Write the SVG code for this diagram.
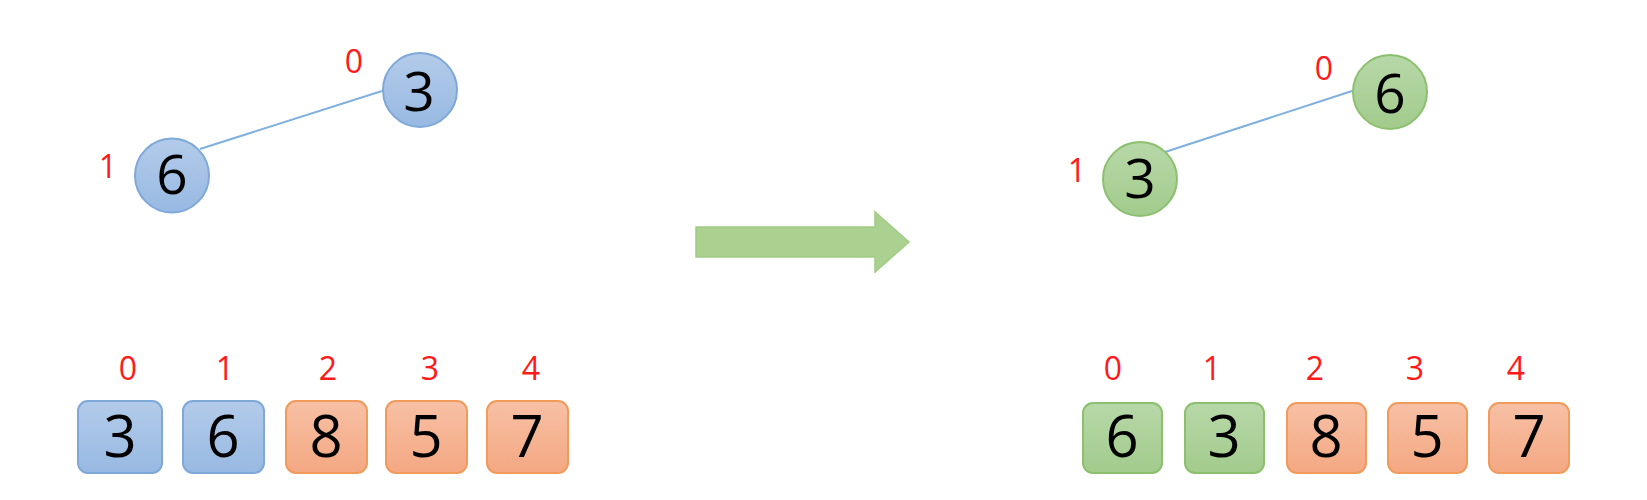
<svg xmlns="http://www.w3.org/2000/svg" width="1647" height="500" viewBox="0 0 1647 500">
<defs>
<linearGradient id="gb" x1="0" y1="0" x2="0" y2="1"><stop offset="0" stop-color="#b3cbea"/><stop offset="1" stop-color="#98b9e2"/></linearGradient>
<linearGradient id="gg" x1="0" y1="0" x2="0" y2="1"><stop offset="0" stop-color="#b7d8a8"/><stop offset="1" stop-color="#a2cb8c"/></linearGradient>
<linearGradient id="go" x1="0" y1="0" x2="0" y2="1"><stop offset="0" stop-color="#f7c0a5"/><stop offset="1" stop-color="#f4a882"/></linearGradient>
<style>
.blue{fill:url(#gb);stroke:#7ea8d8;stroke-width:2}
.green{fill:url(#gg);stroke:#8cc06e;stroke-width:2}
.orange{fill:url(#go);stroke:#f09a5c;stroke-width:2}
.num{font-family:"Open Sans","Noto Sans",sans-serif;font-size:55px;fill:#000;text-anchor:middle}
.bnum{font-size:58px}
.idx{font-family:"Open Sans","Noto Sans",sans-serif;font-size:32px;fill:#ff1a1a;text-anchor:middle}
.edge{stroke:#7fb0df;stroke-width:2;fill:none}
</style>
</defs>
<rect width="1647" height="500" fill="#fff"/>
<g id="connectors">
<line class="edge" x1="200" y1="149" x2="382" y2="91"/>
<line class="edge" x1="1165" y1="152" x2="1352" y2="91"/>
</g>
<g id="tree1-node0"><circle class="blue" cx="420" cy="90" r="37"/><text class="num" x="419" y="111">3</text><text class="idx" x="354" y="73">0</text></g>
<g id="tree1-node1"><circle class="blue" cx="172" cy="175.5" r="37"/><text class="num" x="172" y="194">6</text><text class="idx" x="108" y="178">1</text></g>
<g id="arrow"><path d="M696,227 L875,227 L875,212 L909,242 L875,272 L875,257 L696,257 Z" fill="#aad18f" stroke="#a0cc85" stroke-width="1.5"/></g>
<g id="tree2-node0"><circle class="green" cx="1390" cy="92" r="37"/><text class="num" x="1390" y="113">6</text><text class="idx" x="1324" y="80">0</text></g>
<g id="tree2-node1"><circle class="green" cx="1140" cy="179" r="37"/><text class="num" x="1140" y="198">3</text><text class="idx" x="1077" y="182">1</text></g>
<g id="arr1-0"><rect class="blue" x="78" y="401" width="84" height="72" rx="10"/><text class="num bnum" x="120" y="457">3</text><text class="idx" x="128" y="380">0</text></g>
<g id="arr1-1"><rect class="blue" x="183" y="401" width="81" height="72" rx="10"/><text class="num bnum" x="223" y="457">6</text><text class="idx" x="225" y="380">1</text></g>
<g id="arr1-2"><rect class="orange" x="286" y="401" width="81" height="72" rx="10"/><text class="num bnum" x="326" y="457">8</text><text class="idx" x="328" y="380">2</text></g>
<g id="arr1-3"><rect class="orange" x="386" y="401" width="81" height="72" rx="10"/><text class="num bnum" x="426" y="457">5</text><text class="idx" x="430" y="380">3</text></g>
<g id="arr1-4"><rect class="orange" x="487" y="401" width="81" height="72" rx="10"/><text class="num bnum" x="527" y="457">7</text><text class="idx" x="531" y="380">4</text></g>
<g id="arr2-0"><rect class="green" x="1083" y="403" width="79" height="70" rx="10"/><text class="num bnum" x="1122" y="457">6</text><text class="idx" x="1113" y="380">0</text></g>
<g id="arr2-1"><rect class="green" x="1185" y="403" width="79" height="70" rx="10"/><text class="num bnum" x="1224" y="457">3</text><text class="idx" x="1212" y="380">1</text></g>
<g id="arr2-2"><rect class="orange" x="1287" y="403" width="79" height="70" rx="10"/><text class="num bnum" x="1326" y="457">8</text><text class="idx" x="1315" y="380">2</text></g>
<g id="arr2-3"><rect class="orange" x="1388" y="403" width="79" height="70" rx="10"/><text class="num bnum" x="1427" y="457">5</text><text class="idx" x="1415" y="380">3</text></g>
<g id="arr2-4"><rect class="orange" x="1489" y="403" width="80" height="70" rx="10"/><text class="num bnum" x="1529" y="457">7</text><text class="idx" x="1516" y="380">4</text></g>
</svg>
